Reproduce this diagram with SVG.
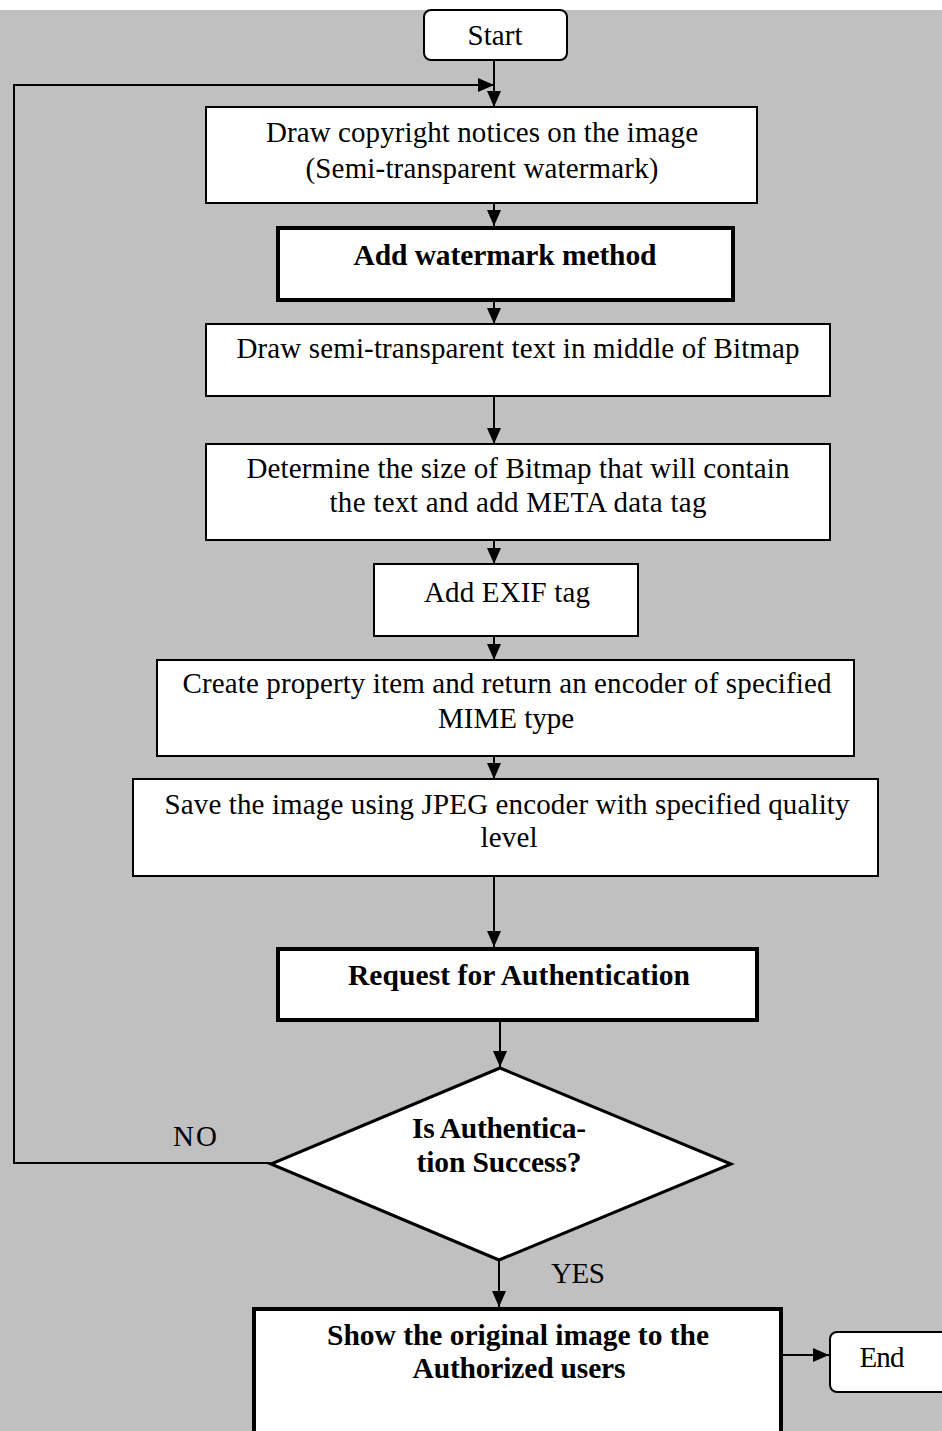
<svg xmlns="http://www.w3.org/2000/svg" width="942" height="1431" viewBox="0 0 942 1431">
<style>
.box{fill:#fff;stroke:#000;stroke-width:2}
.bold{fill:#fff;stroke:#000;stroke-width:4}
.dia{fill:#fff;stroke:#000;stroke-width:3}
.t{font-family:"Liberation Serif","Times New Roman",serif;font-size:29px;fill:#000;text-anchor:middle}
.tb{font-family:"Liberation Serif","Times New Roman",serif;font-size:29.5px;font-weight:bold;fill:#000;text-anchor:middle}
.c{fill:none;stroke:#000;stroke-width:2}
</style>
<defs>
<marker id="ah" markerUnits="userSpaceOnUse" markerWidth="17" markerHeight="14" refX="16" refY="7" orient="auto">
<path d="M0,0 L16,7 L0,14 Z" fill="#000"/>
</marker>
</defs>
<rect x="0" y="0" width="942" height="1431" fill="#fff"/>
<rect x="0" y="10" width="942" height="1421" fill="#c0c0c0"/>

<g id="connectors">
<line class="c" x1="494" y1="60" x2="494" y2="107" marker-end="url(#ah)"/>
<polyline class="c" points="271,1163 14,1163 14,85 494,85" marker-end="url(#ah)"/>
<line class="c" x1="494" y1="204" x2="494" y2="226" marker-end="url(#ah)"/>
<line class="c" x1="494" y1="301" x2="494" y2="324" marker-end="url(#ah)"/>
<line class="c" x1="494" y1="396" x2="494" y2="444" marker-end="url(#ah)"/>
<line class="c" x1="494" y1="540" x2="494" y2="564" marker-end="url(#ah)"/>
<line class="c" x1="494" y1="636" x2="494" y2="660" marker-end="url(#ah)"/>
<line class="c" x1="494" y1="756" x2="494" y2="779" marker-end="url(#ah)"/>
<line class="c" x1="494" y1="876" x2="494" y2="947" marker-end="url(#ah)"/>
<line class="c" x1="500" y1="1021" x2="500" y2="1067" marker-end="url(#ah)"/>
<line class="c" x1="499" y1="1260" x2="499" y2="1307" marker-end="url(#ah)"/>
<line class="c" x1="782" y1="1355" x2="829" y2="1355" marker-end="url(#ah)"/>
</g>

<g id="start">
<rect class="box" x="424" y="10" width="143" height="50" rx="7"/>
<text class="t" x="495" y="45" textLength="55" lengthAdjust="spacing">Start</text>
</g>

<g id="draw-copyright">
<rect class="box" x="206" y="107" width="551" height="96"/>
<text class="t" x="482" y="142" textLength="432" lengthAdjust="spacing">Draw copyright notices on the image</text>
<text class="t" x="482" y="178" textLength="353" lengthAdjust="spacing">(Semi-transparent watermark)</text>
</g>

<g id="add-watermark">
<rect class="bold" x="278" y="228" width="455" height="72"/>
<text class="tb" x="505" y="265" textLength="303" lengthAdjust="spacing">Add watermark method</text>
</g>

<g id="draw-text">
<rect class="box" x="206" y="324" width="624" height="72"/>
<text class="t" x="518" y="358" textLength="563" lengthAdjust="spacing">Draw semi-transparent text in middle of Bitmap</text>
</g>

<g id="determine-size">
<rect class="box" x="206" y="444" width="624" height="96"/>
<text class="t" x="518" y="478" textLength="543" lengthAdjust="spacing">Determine the size of Bitmap that will contain</text>
<text class="t" x="518" y="512" textLength="377" lengthAdjust="spacing">the text and add META data tag</text>
</g>

<g id="add-exif">
<rect class="box" x="374" y="564" width="264" height="72"/>
<text class="t" x="507" y="602" textLength="166" lengthAdjust="spacing">Add EXIF tag</text>
</g>

<g id="create-property">
<rect class="box" x="157" y="660" width="697" height="96"/>
<text class="t" x="507" y="693" textLength="649" lengthAdjust="spacing">Create property item and return an encoder of specified</text>
<text class="t" x="506" y="728" textLength="136" lengthAdjust="spacing">MIME type</text>
</g>

<g id="save-image">
<rect class="box" x="133" y="779" width="745" height="97"/>
<text class="t" x="507" y="814" textLength="685" lengthAdjust="spacing">Save the image using JPEG encoder with specified quality</text>
<text class="t" x="509" y="847" textLength="57" lengthAdjust="spacing">level</text>
</g>

<g id="request-auth">
<rect class="bold" x="278" y="949" width="479" height="71"/>
<text class="tb" x="519" y="985" textLength="342" lengthAdjust="spacing">Request for Authentication</text>
</g>

<g id="decision">
<polygon class="dia" points="500,1068 731,1164 499,1260 271,1164"/>
<text class="tb" x="499" y="1138" textLength="174" lengthAdjust="spacing">Is Authentica-</text>
<text class="tb" x="499" y="1172" textLength="165" lengthAdjust="spacing">tion Success?</text>
</g>

<g id="labels">
<text class="t" x="195" y="1146" textLength="44" lengthAdjust="spacing">NO</text>
<text class="t" x="578" y="1283" textLength="54" lengthAdjust="spacing">YES</text>
</g>

<g id="show-original">
<rect class="bold" x="254" y="1309" width="527" height="140"/>
<text class="tb" x="518" y="1345" textLength="382" lengthAdjust="spacing">Show the original image to the</text>
<text class="tb" x="519" y="1378" textLength="213" lengthAdjust="spacing">Authorized users</text>
</g>

<g id="end">
<rect class="box" x="830" y="1332" width="130" height="60" rx="7"/>
<text class="t" x="882" y="1367" textLength="45" lengthAdjust="spacing">End</text>
</g>
</svg>
